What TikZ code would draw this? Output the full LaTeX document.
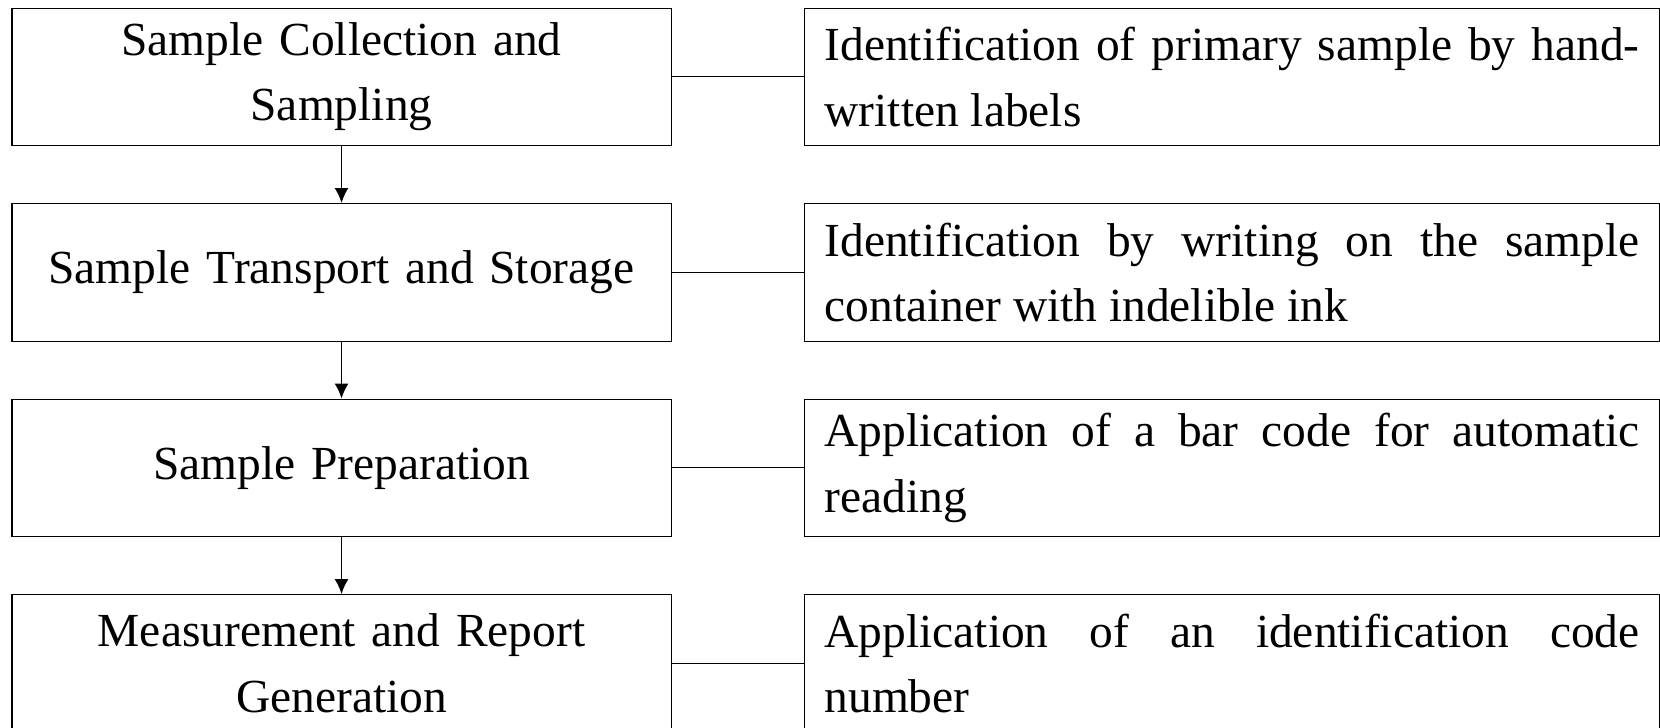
\documentclass[tikz,border=0pt]{standalone}
\usepackage{fontspec}
\setmainfont{Liberation Serif}
\usepackage{tikz}
\usetikzlibrary{arrows.meta}
\usetikzlibrary{positioning}
\hbadness=10000
\tikzset{
  >={Latex[length=0.3cm,width=0.28cm]},
  node distance = 1.14cm,
  stage/.style = {draw, line width=0.6pt, inner xsep=0.4cm, inner ysep=0pt,
    text width=12.38cm, minimum height=2.75cm, align=center,
    font=\fontsize{27}{37.3}\selectfont},
  ident/.style = {stage, text width=16.3cm, align=justify},
}

\begin{document}
\begin{tikzpicture}
    \useasboundingbox (0,0) rectangle (33.2,-14.54);
    \node [stage, anchor=north west] (collect) at (0.23,-0.15) {Sample Collection and\\ Sampling};
    \node [stage, below = of collect] (transport) {Sample Transport and Storage};
    \node [stage, below = of transport] (prep) {Sample Preparation};
    \node [stage, below = of prep] (measure) {Measurement and Report\\ Generation};
    \node [ident, right = 2.65cm of collect] (idcollect) {Identification of primary sample by hand-\linebreak written labels};
    \node [ident, right = 2.65cm of transport] (idtransport) {Identification by writing on the sample\linebreak container with indelible ink};
    \node [ident, right = 2.65cm of prep] (idprep) {Application of a bar code for automatic\linebreak reading};
    \node [ident, right = 2.65cm of measure] (idmeasure) {Application of an identification code\linebreak number};
    \draw [->, line width=1.1pt] (collect) -- (transport);
    \draw [->, line width=1.1pt] (transport) -- (prep);
    \draw [->, line width=1.1pt] (prep) -- (measure);
    \draw [line width=0.6pt] (collect) -- (idcollect);
    \draw [line width=0.6pt] (transport) -- (idtransport);
    \draw [line width=0.6pt] (prep) -- (idprep);
    \draw [line width=0.6pt] (measure) -- (idmeasure);
  \end{tikzpicture}
\end{document}
